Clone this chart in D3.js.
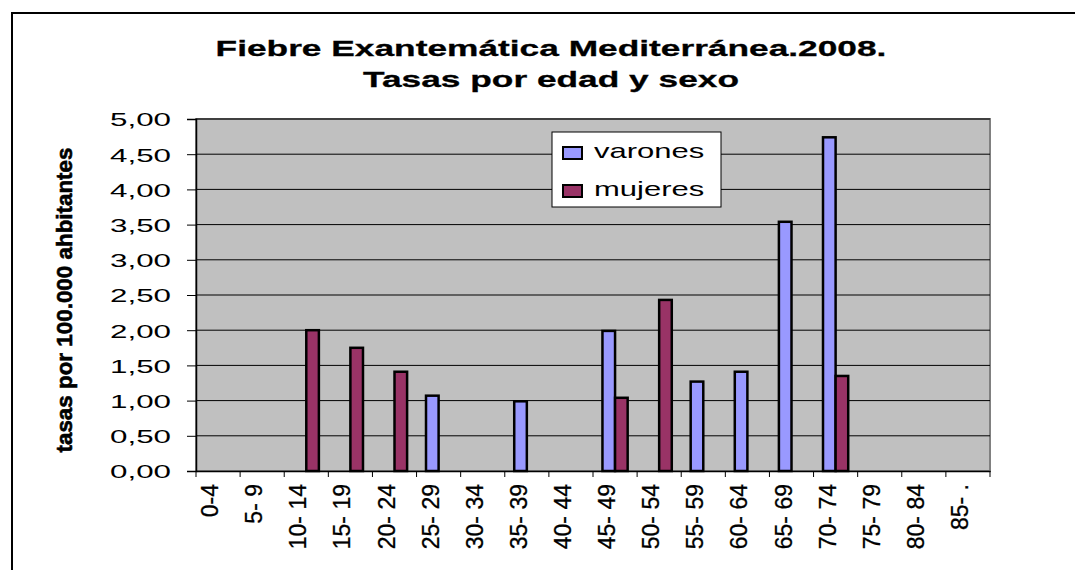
<!DOCTYPE html>
<html>
<head>
<meta charset="utf-8">
<script src="https://cdn.jsdelivr.net/npm/d3@7"></script>
<style>
  html, body { margin: 0; padding: 0; background: #fff; }
  svg { display: block; font-family: "Liberation Sans", Arial, sans-serif; }
</style>
</head>
<body>
<div class="chart-container"></div>
<script>
const width = 1075;
const height = 570;

// datos
const grupos_edad = ["0-4", "5- 9", "10- 14", "15- 19", "20- 24", "25- 29", "30- 34", "35- 39", "40- 44",
                     "45- 49", "50- 54", "55- 59", "60- 64", "65- 69", "70- 74", "75- 79", "80- 84", "85- ."];
const varones = [0, 0, 0, 0, 0, 1.07, 0, 0.99, 0, 1.99, 0, 1.27, 1.41, 3.54, 4.74, 0, 0, 0];
const mujeres = [0, 0, 2.00, 1.75, 1.41, 0, 0, 0, 0, 1.04, 2.43, 0, 0, 0, 1.35, 0, 0, 0];
const series = ["varones", "mujeres"];
const colores = ["#9999FF", "#993366"];
const ticksY = [0, 0.5, 1, 1.5, 2, 2.5, 3, 3.5, 4, 4.5, 5];

const plot = { left: 196, right: 990, top: 119, bottom: 471 };
const sx = 1.65; // el texto horizontal del original aparece estirado

const svg = d3.select(".chart-container")
              .append("svg")
              .attr("width", width)
              .attr("height", height);

// marco exterior
svg.append("rect")
   .attr("x", 12).attr("y", 13)
   .attr("width", 1200).attr("height", 700)
   .attr("fill", "white")
   .attr("stroke", "black")
   .attr("stroke-width", 2);

// título
const titulo = svg.append("g")
                  .attr("font-weight", "bold")
                  .attr("font-size", 23)
                  .attr("fill", "black")
                  .attr("stroke", "black")
                  .attr("stroke-width", 0.3);
[["Fiebre Exantemática Mediterránea.2008.", 56], ["Tasas por edad y sexo", 87]].forEach(([t, y]) => {
    titulo.append("text")
          .attr("transform", `translate(551, ${y}) scale(1.535, 1)`)
          .attr("text-anchor", "middle")
          .text(t);
});

const escalaX = d3.scaleBand()
                  .domain(grupos_edad)
                  .range([plot.left, plot.right]);

const escalaSerie = d3.scaleBand()
                      .domain(series)
                      .range([0, escalaX.bandwidth()])
                      .paddingInner(0)
                      .paddingOuter(0.75);

const escalaY = d3.scaleLinear()
                  .domain([0, 5])
                  .range([plot.bottom, plot.top]);

const formato = d3.formatLocale({ decimal: ",", thousands: ".", grouping: [3], currency: ["", "€"] }).format(".2f");

// área de trazado
svg.append("rect")
   .attr("x", plot.left).attr("y", plot.top)
   .attr("width", plot.right - plot.left)
   .attr("height", plot.bottom - plot.top)
   .attr("fill", "#C0C0C0")
   .attr("stroke", "#808080")
   .attr("stroke-width", 2);

// líneas de división
svg.append("g")
   .selectAll("line")
   .data(ticksY.filter(d => d > 0))
   .join("line")
   .attr("x1", plot.left).attr("x2", plot.right)
   .attr("y1", d => escalaY(d)).attr("y2", d => escalaY(d))
   .attr("stroke", "black")
   .attr("stroke-width", 1);

// barras
const datos = grupos_edad.map((g, i) => ({ grupo: g, valores: [varones[i], mujeres[i]] }));

svg.append("g")
   .selectAll("g")
   .data(datos)
   .join("g")
   .attr("transform", d => `translate(${escalaX(d.grupo)}, 0)`)
   .selectAll("rect")
   .data(d => d.valores.map((v, j) => ({ serie: series[j], valor: v, color: colores[j] })))
   .join("rect")
   .filter(d => d.valor > 0)
   .attr("x", d => escalaSerie(d.serie))
   .attr("y", d => escalaY(d.valor))
   .attr("width", escalaSerie.bandwidth())
   .attr("height", d => escalaY(0) - escalaY(d.valor))
   .attr("fill", d => d.color)
   .attr("stroke", "black")
   .attr("stroke-width", 2.5);

// eje Y
const ejeY = svg.append("g")
                .attr("transform", `translate(${plot.left}, 0)`)
                .call(d3.axisLeft(escalaY).tickValues(ticksY).tickSize(9).tickFormat(formato));
ejeY.select(".domain").attr("stroke", "black").attr("stroke-width", 1.5);
ejeY.selectAll(".tick line").attr("stroke", "black");
ejeY.selectAll(".tick text")
    .attr("font-size", 19)
    .attr("font-family", "Liberation Sans, Arial, sans-serif")
    .attr("fill", "black")
    .attr("x", -25 / sx)
    .attr("dy", "0.36em")
    .attr("transform", `scale(${sx}, 1)`);

// eje X
const ejeX = svg.append("g")
                .attr("transform", `translate(0, ${plot.bottom})`)
                .call(d3.axisBottom(escalaX).tickSize(0));
ejeX.select(".domain").attr("stroke", "black").attr("stroke-width", 1.5);
ejeX.selectAll(".tick text")
    .attr("font-size", 23)
    .attr("font-family", "Liberation Sans, Arial, sans-serif")
    .attr("fill", "black")
    .attr("stroke", "black")
    .attr("stroke-width", 0.3)
    .attr("text-anchor", "end")
    .attr("transform", "rotate(-90)")
    .attr("x", -13)
    .attr("y", 0)
    .attr("dy", 0);

// marcas del eje X en los límites de cada categoría
ejeX.append("g")
    .selectAll("line")
    .data(grupos_edad.map(g => escalaX(g)).concat([escalaX.range()[1]]))
    .join("line")
    .attr("x1", d => d).attr("x2", d => d)
    .attr("y1", 0).attr("y2", 6)
    .attr("stroke", "black");

// título del eje Y
svg.append("text")
   .attr("transform", "translate(72, 300) rotate(-90)")
   .attr("text-anchor", "middle")
   .attr("font-weight", "bold")
   .attr("font-size", 22)
   .attr("stroke", "black")
   .attr("stroke-width", 0.6)
   .attr("textLength", 305)
   .attr("lengthAdjust", "spacingAndGlyphs")
   .text("tasas por 100.000 ahbitantes");

// leyenda
const leyenda = svg.append("g");
leyenda.append("rect")
       .attr("x", 552).attr("y", 132)
       .attr("width", 169).attr("height", 75)
       .attr("fill", "white")
       .attr("stroke", "black")
       .attr("stroke-width", 1);

const items = leyenda.selectAll("g")
                     .data(series)
                     .join("g")
                     .attr("transform", (d, i) => `translate(563, ${147 + i * 38})`);
items.append("rect")
     .attr("width", 19).attr("height", 12)
     .attr("fill", (d, i) => colores[i])
     .attr("stroke", "black")
     .attr("stroke-width", 2);
items.append("text")
     .attr("transform", `translate(31, 11) scale(1.55, 1)`)
     .attr("font-size", 20)
     .attr("fill", "black")
     .text(d => d);
</script>
</body>
</html>
